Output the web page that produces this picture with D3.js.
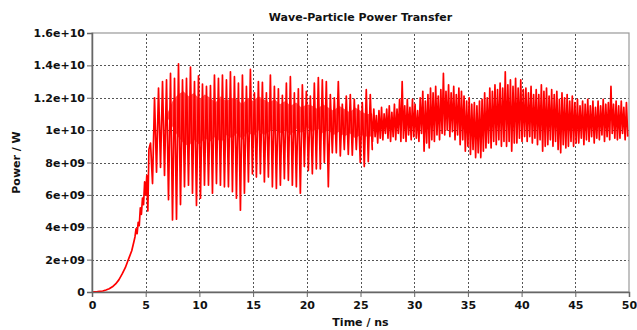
<!DOCTYPE html>
<html>
<head>
<meta charset="utf-8">
<script src="https://cdn.jsdelivr.net/npm/d3@7/dist/d3.min.js"></script>
<style>
  body { margin: 0; background: #fff; }
  svg { display: block; }
  text { font-family: "DejaVu Sans", Verdana, sans-serif; font-weight: bold; fill: #111; }
</style>
</head>
<body>
<svg></svg>
<script>
const width = 637, height = 330;
const margin = { top: 33, right: 8, bottom: 38, left: 92 };

// power values are in units of 1e9 W (GW)
const riseTime  = [0, 0.5, 1.0, 1.3, 1.6, 1.9, 2.2, 2.5, 2.8, 3.1, 3.3, 3.5, 3.7, 3.9, 4.0, 4.1, 4.2, 4.3, 4.4, 4.5, 4.6, 4.7, 4.8, 4.9, 5.0, 5.1, 5.2, 5.3];
const risePower = [0, 0.02, 0.06, 0.12, 0.2, 0.32, 0.5, 0.75, 1.1, 1.5, 1.85, 2.2, 2.55, 3.1, 3.4, 3.9, 3.6, 4.3, 4.1, 5.2, 4.8, 5.8, 5.4, 6.8, 6.0, 7.2, 5.0, 8.8];

// big oscillations, one peak + one trough per cycle
const oscStart = 5.45, oscPeriod = 0.372;
const oscPeaks = [9.2, 12.0, 12.6, 13.0, 13.1, 13.5, 13.2, 14.1, 13.1, 13.2,
                  13.9, 13.0, 13.35, 12.85, 12.7, 12.75, 13.4, 13.2, 13.4, 13.1,
                  13.6, 13.3, 12.9, 13.4, 12.7, 13.75, 12.3, 13.0, 12.95, 12.3,
                  13.4, 12.7, 12.55, 12.15, 12.9, 13.3, 12.3, 12.55, 12.8, 12.4,
                  12.1, 12.9, 13.25, 13.1, 13.0, 12.2, 12.0, 13.0, 11.6, 12.1,
                  12.2, 11.9, 11.55, 11.7, 12.5, 12.2];
const oscTroughs = [6.7, 7.4, 7.7, 7.2, 5.7, 4.45, 4.5, 5.4, 6.5, 6.6,
                    6.1, 5.35, 5.8, 6.6, 6.6, 6.1, 6.7, 6.6, 6.5, 6.5,
                    6.2, 5.8, 5.05, 6.1, 6.8, 7.3, 7.1, 7.3, 6.8, 7.1,
                    6.5, 6.4, 6.6, 7.0, 6.9, 6.6, 6.5, 6.1, 7.75, 7.5,
                    7.3, 7.6, 7.6, 8.0, 6.5, 8.6, 8.6, 8.4, 8.8, 8.5,
                    8.45, 8.8, 8.0, 7.75, 8.05, 8.8];

// fast inner oscillation band seen between the big spikes
const bandTime = [7.0, 7.5, 8.0, 8.5, 9.0, 9.5, 10.0, 10.5, 11.0, 11.5, 12.0, 12.5, 13.0, 13.5, 14.0, 14.5, 15.0, 15.5, 16.0, 16.5,
                  17.0, 17.5, 18.0, 18.5, 19.0, 19.5, 20.0, 20.5, 21.0, 21.5, 22.0, 22.5, 23.0, 23.5, 24.0, 24.5, 25.0, 25.5, 26.0];
const bandHigh = [11.0, 11.8, 12.2, 12.4, 12.1, 12.3, 11.9, 12.2, 12.0, 11.7, 12.1, 11.8, 12.0, 11.9, 11.6, 12.0, 11.8, 12.1, 11.9, 11.7,
                  11.9, 11.6, 11.8, 11.5, 11.7, 11.4, 11.6, 11.5, 11.3, 11.6, 11.4, 11.2, 11.5, 11.3, 11.1, 11.4, 11.2, 11.0, 11.0];
const bandLow  = [10.8, 10.2, 9.6, 9.2, 9.0, 9.4, 9.1, 9.5, 9.3, 9.6, 9.2, 9.7, 9.5, 9.8, 9.4, 9.9, 9.6, 10.0, 9.7, 9.9,
                  10.1, 9.8, 10.0, 9.7, 10.1, 9.8, 10.2, 9.9, 10.1, 9.8, 10.0, 9.7, 9.9, 9.6, 9.8, 9.5, 9.7, 9.6, 9.6];

// dense noisy part after ~26 ns
const denseStart = 26.0, densePeriod = 0.24;
const densePeaks = [11.0, 11.3, 10.9, 11.2, 11.4, 11.0, 11.3, 11.5, 11.1, 11.6,
                    11.3, 11.9, 13.0, 11.5, 11.9, 11.4, 11.9, 11.6, 11.2, 12.0,
                    12.4, 11.8, 12.2, 12.6, 12.3, 12.7, 12.1, 12.5, 13.5, 12.4,
                    12.8, 12.3, 12.7, 12.2, 12.6, 12.4, 12.1, 11.8, 12.0, 11.6,
                    11.7, 11.5, 11.8, 11.9, 12.3, 12.0, 12.6, 12.4, 12.8, 12.5,
                    12.9, 12.6, 13.6, 12.8, 13.1, 12.7, 13.2, 12.6, 13.1, 12.5,
                    12.6, 12.3, 12.7, 12.2, 12.5, 12.2, 12.8, 12.4, 12.6, 12.1,
                    12.5, 12.2, 12.4, 11.9, 12.3, 12.0, 12.2, 11.8, 12.1, 11.7,
                    11.9, 11.5, 11.8, 11.6, 11.9, 11.5, 11.8, 11.4, 11.8, 11.5,
                    11.9, 11.6, 11.7, 12.7, 11.6, 11.8, 11.5, 11.8, 11.4, 11.7];
const denseTroughs = [9.3, 9.6, 9.2, 9.5, 9.4, 9.8, 9.5, 9.3, 9.6, 9.4,
                      9.8, 9.3, 9.5, 9.3, 9.7, 9.4, 9.6, 9.5, 9.3, 9.8,
                      8.7, 9.2, 8.9, 9.4, 9.3, 9.7, 9.4, 9.8, 9.7, 10.0,
                      9.6, 9.9, 9.4, 9.7, 9.1, 9.4, 8.7, 9.0, 8.5, 8.8,
                      8.3, 8.6, 8.3, 8.7, 8.9, 9.2, 8.9, 9.3, 9.1, 9.4,
                      9.0, 9.3, 9.0, 9.3, 8.7, 9.2, 9.2, 9.5, 9.3, 9.6,
                      9.3, 9.6, 9.2, 9.5, 9.1, 9.4, 8.7, 9.0, 9.1, 9.4,
                      9.0, 9.3, 8.8, 8.6, 9.1, 8.9, 9.0, 9.3, 9.0, 9.2,
                      9.2, 9.5, 9.1, 9.4, 9.3, 9.6, 9.2, 9.5, 9.4, 9.7,
                      9.3, 9.6, 9.4, 9.8, 9.5, 9.4, 9.5, 9.8, 9.4, 9.6];

const xTicks = [0, 5, 10, 15, 20, 25, 30, 35, 40, 45, 50];
const yTicks = [0, 2e9, 4e9, 6e9, 8e9, 1e10, 1.2e10, 1.4e10, 1.6e10];
const yTickLabels = ['0', '2e+09', '4e+09', '6e+09', '8e+09', '1e+10', '1.2e+10', '1.4e+10', '1.6e+10'];

// build the signal as one point list
const signal = [];
riseTime.forEach((t, i) => signal.push({ t, p: risePower[i] * 1e9 }));
oscPeaks.forEach((v, i) => {
  const t = oscStart + i * oscPeriod;
  signal.push({ t, p: v * 1e9 });
  signal.push({ t: t + oscPeriod / 2, p: oscTroughs[i] * 1e9 });
});
densePeaks.forEach((v, i) => {
  const t = denseStart + i * densePeriod;
  signal.push({ t, p: v * 1e9 });
  signal.push({ t: t + densePeriod / 2, p: denseTroughs[i] * 1e9 });
});
const band = bandTime.map((t, i) => ({ t, hi: bandHigh[i] * 1e9, lo: bandLow[i] * 1e9 }));

const svg = d3.select('svg').attr('width', width).attr('height', height);

const x = d3.scaleLinear().domain([0, 50]).range([margin.left, width - margin.right]);
const y = d3.scaleLinear().domain([0, 1.6e10]).range([height - margin.bottom, margin.top]);

// grid
const grid = svg.append('g').attr('class', 'grid')
  .attr('stroke', '#555').attr('stroke-width', 1).attr('stroke-dasharray', '2,2');
grid.selectAll('line.gy').data(yTicks.slice(1, -1)).join('line')
  .attr('class', 'gy')
  .attr('x1', x(0)).attr('x2', x(50))
  .attr('y1', d => Math.round(y(d)) + 0.5).attr('y2', d => Math.round(y(d)) + 0.5);
grid.selectAll('line.gx').data(xTicks.slice(1, -1)).join('line')
  .attr('class', 'gx')
  .attr('y1', y(0)).attr('y2', y(1.6e10))
  .attr('x1', d => Math.round(x(d)) + 0.5).attr('x2', d => Math.round(x(d)) + 0.5);

// plot frame
svg.append('rect')
  .attr('x', x(0)).attr('y', y(1.6e10))
  .attr('width', x(50) - x(0)).attr('height', y(0) - y(1.6e10))
  .attr('fill', 'none').attr('stroke', '#999').attr('stroke-width', 1.2);

// inner band
svg.append('path')
  .datum(band)
  .attr('fill', '#ff5a5a')
  .attr('d', d3.area().x(d => x(d.t)).y0(d => y(d.lo)).y1(d => y(d.hi)));

// signal
svg.append('path')
  .datum(signal)
  .attr('fill', 'none')
  .attr('stroke', '#ff0000')
  .attr('stroke-width', 1.7)
  .attr('stroke-linejoin', 'round')
  .attr('d', d3.line().x(d => x(d.t)).y(d => y(d.p)));

// axes
const xAxis = svg.append('g')
  .attr('transform', `translate(0,${y(0)})`)
  .call(d3.axisBottom(x).tickValues(xTicks).tickSize(5).tickPadding(4).tickFormat(d3.format('d')));
const yAxis = svg.append('g')
  .attr('transform', `translate(${x(0)},0)`)
  .call(d3.axisLeft(y).tickValues(yTicks).tickSize(5).tickPadding(2).tickFormat((d, i) => yTickLabels[i]));
[xAxis, yAxis].forEach(g => {
  g.select('.domain').attr('stroke', '#666').attr('stroke-width', 1.5);
  g.selectAll('.tick line').attr('stroke', '#666');
  g.selectAll('text').attr('font-size', 11).attr('font-family', '"DejaVu Sans", Verdana, sans-serif')
    .attr('font-weight', 'bold').attr('fill', '#111');
});

// titles
svg.append('text')
  .attr('x', (x(0) + x(50)) / 2).attr('y', 21)
  .attr('text-anchor', 'middle').attr('font-size', 11)
  .text('Wave-Particle Power Transfer');
svg.append('text')
  .attr('x', (x(0) + x(50)) / 2).attr('y', 326)
  .attr('text-anchor', 'middle').attr('font-size', 11)
  .text('Time / ns');
svg.append('text')
  .attr('transform', `translate(20,${(y(0) + y(1.6e10)) / 2}) rotate(-90)`)
  .attr('text-anchor', 'middle').attr('font-size', 11)
  .text('Power / W');
</script>
</body>
</html>
